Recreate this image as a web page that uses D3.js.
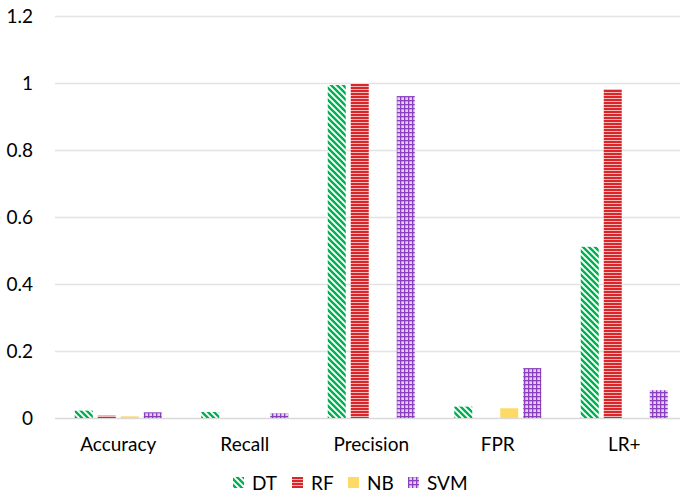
<!DOCTYPE html>
<html><head><meta charset="utf-8">
<script src="https://cdn.jsdelivr.net/npm/d3@7"></script>
<style>body{margin:0;background:#fff}svg{display:block}text{font-family:Lato,"Open Sans",sans-serif;fill:#000}</style>
</head><body><svg id="c" width="680" height="495"></svg>
<script>
const categories = ["Accuracy","Recall","Precision","FPR","LR+"];
const seriesNames = ["DT","RF","NB","SVM"];
const DT  = [0.022, 0.018, 0.994, 0.034, 0.511];
const RF  = [0.007, 0,     0.997, 0,     0.982];
const NB  = [0.005, 0,     0,     0.029, 0];
const SVM = [0.017, 0.014, 0.961, 0.149, 0.083];
const yTicks = [0, 0.2, 0.4, 0.6, 0.8, 1, 1.2];
const values = [DT, RF, NB, SVM];

const svg = d3.select("#c");
const defs = svg.append("defs");
let p = defs.append("pattern").attr("id","pDT").attr("patternUnits","userSpaceOnUse").attr("width",6).attr("height",6);
p.append("rect").attr("width",6).attr("height",6).attr("fill","#fff");
p.append("path").attr("d","M-1,-1 L7,7 M-4,2 L4,10 M2,-4 L10,4").attr("stroke","#00B050").attr("stroke-width",2.4);
p = defs.append("pattern").attr("id","pRF").attr("patternUnits","userSpaceOnUse").attr("width",4).attr("height",3);
p.append("rect").attr("width",4).attr("height",3).attr("fill","#f4b8b8");
p.append("rect").attr("width",4).attr("height",2).attr("fill","#d9262b");
p = defs.append("pattern").attr("id","pNB").attr("patternUnits","userSpaceOnUse").attr("width",4).attr("height",4);
p.append("rect").attr("width",4).attr("height",4).attr("fill","#FFD966");
p = defs.append("pattern").attr("id","pSVM").attr("patternUnits","userSpaceOnUse").attr("width",4).attr("height",4);
p.append("rect").attr("width",4).attr("height",4).attr("fill","#e3d0f0");
p.append("rect").attr("width",4).attr("height",1.3).attr("fill","#8a3fbf");
p.append("rect").attr("width",1.3).attr("height",4).attr("fill","#8a3fbf");
const fills = ["url(#pDT)","url(#pRF)","url(#pNB)","url(#pSVM)"];

const x = d3.scaleBand().domain(categories).range([55, 687.5]).paddingInner(0).paddingOuter(0);
const y = d3.scaleLinear().domain([0,1.2]).range([418, 16]);
const bw = 18, pitch = 23;
const fs = "19px";

svg.append("g").selectAll("line").data(yTicks).join("line")
  .attr("x1",55).attr("x2",687).attr("y1",d=>Math.round(y(d))+0.5).attr("y2",d=>Math.round(y(d))+0.5)
  .attr("stroke",d=>d===0?"#d9d9d9":"#e3e3e3").attr("stroke-width",1.3);

const yAxis = d3.axisLeft(y).tickValues(yTicks).tickSize(0).tickPadding(0).tickFormat(d=>String(d));
const ga = svg.append("g").attr("transform","translate(33,0)").call(yAxis);
ga.select(".domain").remove();
ga.selectAll("text").style("font-size",fs).style("font-family","Lato,sans-serif").attr("fill","#000").attr("dy","0.35em");

values.forEach((arr, si) => {
  svg.append("g").selectAll("rect").data(arr.map((v,i)=>({v,c:categories[i]}))).join("rect")
    .attr("x", d => x(d.c) + x.bandwidth()/2 - (4*bw+3*(pitch-bw))/2 + si*pitch)
    .attr("width", bw)
    .attr("y", d => y(d.v))
    .attr("height", d => y(0) - y(d.v))
    .attr("fill", fills[si]);
});

const xAxis = d3.axisBottom(x).tickSize(0).tickPadding(0);
const gx = svg.append("g").attr("transform","translate(0,437)").call(xAxis);
gx.select(".domain").remove();
gx.selectAll("text").style("font-size",fs).style("font-family","Lato,sans-serif").attr("fill","#000").attr("dy","0.71em");

const legX = [233, 292, 348, 408];
const lg = svg.append("g");
seriesNames.forEach((n,i)=>{
  lg.append("rect").attr("x",legX[i]).attr("y",477).attr("width",11).attr("height",11).attr("fill",fills[i]);
  lg.append("text").attr("x",legX[i]+19).attr("y",483).attr("dy","0.35em").style("font-size",fs).text(n);
});
</script></body></html>
